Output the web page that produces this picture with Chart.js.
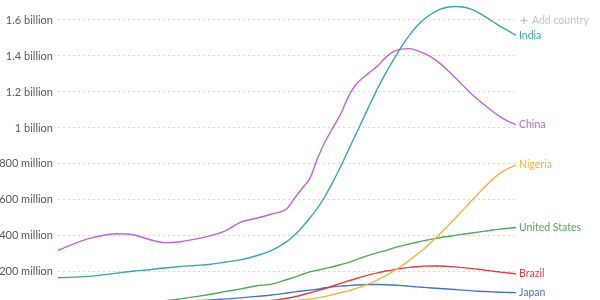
<!DOCTYPE html>
<html>
<head>
<meta charset="utf-8">
<script src="https://cdn.jsdelivr.net/npm/chart.js@4"></script>
<style>
html,body{margin:0;padding:0;background:#fff;overflow:hidden;}
#wrap{width:600px;height:300px;position:relative;}
</style>
</head>
<body>
<div id="wrap"><canvas id="c"></canvas></div>
<script>
const years = [1800,1820,1840,1850,1860,1870,1880,1890,1900,1910,1920,1930,1940,1950,1955,1960,1965,1970,1975,1980,1985,1990,1995,2000,2005,2010,2015,2020,2025,2030,2035,2040,2045,2050,2055,2060,2065,2070,2075,2080,2085,2090,2095,2100];
// values in millions
const india = [168,175,195,205,212,222,230,236,243,255,268,290,320,370,405,450,500,555,622,699,783,873,963,1053,1144,1231,1310,1383,1452,1513,1565,1605,1636,1659,1671,1675,1672,1662,1642,1617,1590,1563,1540,1515];
const china = [320,385,412,405,380,363,368,382,402,430,478,498,522,552,610,665,720,830,925,1000,1075,1170,1240,1280,1315,1350,1395,1425,1438,1441,1430,1414,1391,1360,1322,1280,1238,1196,1158,1123,1090,1060,1036,1018];
const nigeria = [10,10,11,12,12,13,14,15,16,18,20,23,27,38,41,45,50,56,64,74,84,95,108,122,139,159,181,206,233,264,296,330,369,411,453,497,542,587,632,676,717,752,775,794];
const unitedStates = [6,10,17,23,31,40,50,63,76,92,106,123,132,158,171,186,200,209,219,229,240,252,267,282,296,309,320,334,345,355,365,374,382,390,397,403,409,415,421,427,433,438,443,447];
const brazil = [3.6,4.5,6,7.2,8.5,10,12,15,17.4,22,28,34,41,54,62,72,84,96,108,122,136,150,162,175,186,196,205,213,220,225,229,232,233,233,231,228,224,220,215,210,204,199,194,190];
const japan = [30,31,32,32,33,34,37,40,44,50,56,64,72,83,89,94,99,104,112,117,121,124,127,129,130,130,129,127,124,121,117,114,111,108,105,102,99,96,93,91,89,87,86,85];
const yTicks = [200,400,600,800,1000,1200,1400,1600];

const series = [
  {name:'India', values:india, color:'#3ba7ad'},
  {name:'China', values:china, color:'#c065d6'},
  {name:'Nigeria', values:nigeria, color:'#fbb04a'},
  {name:'United States', values:unitedStates, color:'#4fab55'},
  {name:'Brazil', values:brazil, color:'#df3e42'},
  {name:'Japan', values:japan, color:'#4a74c6'}
];

function fmt(v){
  if (v >= 1e9) return Number((v/1e9).toFixed(1)) + ' billion';
  return Math.round(v/1e6) + ' million';
}

const endLabels = {
  id:'endLabels',
  afterDatasetsDraw(chart){
    const ctx = chart.ctx;
    ctx.save();
    ctx.font = '10.5px Lato';
    ctx.textBaseline = 'middle';
    ctx.textAlign = 'left';
    chart.data.datasets.forEach((ds,i)=>{
      const meta = chart.getDatasetMeta(i);
      const pt = meta.data[meta.data.length-1];
      ctx.fillStyle = ds.borderColor;
      ctx.fillText(ds.label, pt.x + 3, pt.y);
    });
    // Add country
    ctx.fillStyle = '#c4c4c4';
    ctx.font = '10.5px Lato';
    ctx.fillText('Add country', chart.chartArea.right + 16, 21);
    ctx.strokeStyle = '#c4c4c4';
    ctx.lineWidth = 1.3;
    const cx = chart.chartArea.right + 8, cy = 20.5;
    ctx.beginPath();
    ctx.moveTo(cx-3.5, cy); ctx.lineTo(cx+3.5, cy);
    ctx.moveTo(cx, cy-3.5); ctx.lineTo(cx, cy+3.5);
    ctx.stroke();
    ctx.restore();
  }
};

new Chart(document.getElementById('c'), {
  type:'line',
  data:{
    datasets: series.map(s=>({
      label:s.name,
      data: years.map((y,i)=>({x:y, y:s.values[i]*1e6})),
      borderColor:s.color,
      backgroundColor:s.color,
      borderWidth:1.4,
      pointRadius:0,
      cubicInterpolationMode:'monotone',
      fill:false
    }))
  },
  options:{
    responsive:true,
    maintainAspectRatio:false,
    animation:false,
    layout:{padding:{left:0,right:84,top:0,bottom:0}},
    plugins:{legend:{display:false},tooltip:{enabled:false}},
    scales:{
      x:{type:'linear',min:1800,max:2100,display:false},
      y:{
        min:44e6, max:1711e6,
        afterBuildTicks(scale){ scale.ticks = yTicks.map(v=>({value:v*1e6})); },
        afterFit(scale){ scale.width = 58; scale.paddingTop = 0; scale.paddingBottom = 0; },
        border:{display:false, dash:[2,3]},
        grid:{color:'#d6d6d6', drawTicks:false, lineWidth:1},
        ticks:{
          callback:(v)=>fmt(v),
          color:'#5a5a5a',
          font:{family:'Lato', size:11},
          padding:5
        }
      }
    }
  },
  plugins:[endLabels]
});
</script>
</body>
</html>
